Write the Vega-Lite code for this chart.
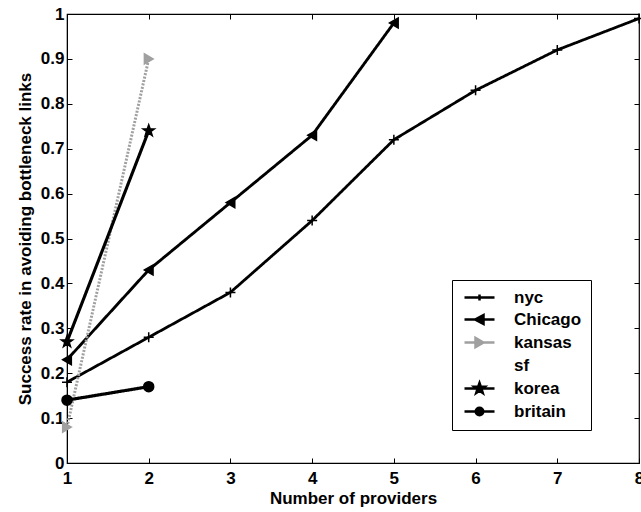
{
  "$schema": "https://vega.github.io/schema/vega-lite/v6.json",
  "width": 572,
  "height": 449,
  "autosize": {"type": "none"},
  "padding": {"left": 67, "top": 14, "right": 2, "bottom": 49},
  "background": "white",
  "config": {
    "view": {"stroke": "black", "strokeWidth": 1.2},
    "font": "Liberation Sans",
    "axis": {"grid": false, "domainColor": "black", "tickColor": "black", "labelColor": "black", "titleColor": "black", "labelFont": "Liberation Sans", "titleFont": "Liberation Sans", "labelFontSize": 17, "titleFontSize": 17, "titleFontWeight": "bold", "labelFontWeight": "bold"},
    "legend": {"labelFont": "Liberation Sans", "labelFontSize": 17, "labelFontWeight": "bold", "labelColor": "black"}
  },
  "data": {
    "values": [
      {"city": "nyc", "n": 1, "rate": 0.18},
      {"city": "nyc", "n": 2, "rate": 0.28},
      {"city": "nyc", "n": 3, "rate": 0.38},
      {"city": "nyc", "n": 4, "rate": 0.54},
      {"city": "nyc", "n": 5, "rate": 0.72},
      {"city": "nyc", "n": 6, "rate": 0.83},
      {"city": "nyc", "n": 7, "rate": 0.92},
      {"city": "nyc", "n": 8, "rate": 0.99},
      {"city": "Chicago", "n": 1, "rate": 0.23},
      {"city": "Chicago", "n": 2, "rate": 0.43},
      {"city": "Chicago", "n": 3, "rate": 0.58},
      {"city": "Chicago", "n": 4, "rate": 0.73},
      {"city": "Chicago", "n": 5, "rate": 0.98},
      {"city": "kansas", "n": 1, "rate": 0.08},
      {"city": "kansas", "n": 2, "rate": 0.9},
      {"city": "korea", "n": 1, "rate": 0.27},
      {"city": "korea", "n": 2, "rate": 0.74},
      {"city": "britain", "n": 1, "rate": 0.14},
      {"city": "britain", "n": 2, "rate": 0.17}
    ]
  },
  "resolve": {
    "scale": {"shape": "independent", "fill": "independent", "stroke": "independent", "strokeWidth": "independent", "strokeDash": "independent"},
    "axis": {"x": "independent", "y": "independent"}
  },
  "layer": [
    {
      "mark": {"type": "line"},
      "encoding": {
        "x": {"field": "n", "type": "quantitative", "scale": {"domain": [1, 8], "nice": false, "zero": false},
              "axis": {"orient": "top", "title": null, "labels": false, "domain": false, "values": [1, 2, 3, 4, 5, 6, 7, 8], "tickSize": -5}},
        "y": {"field": "rate", "type": "quantitative", "scale": {"domain": [0, 1], "nice": false},
              "axis": {"orient": "right", "title": null, "labels": false, "domain": false, "values": [0, 0.1, 0.2, 0.3, 0.4, 0.5, 0.6, 0.7, 0.8, 0.9, 1], "tickSize": -5}},
        "detail": {"field": "city"},
        "stroke": {"field": "city", "type": "nominal", "legend": null,
                   "scale": {"domain": ["nyc", "Chicago", "kansas", "sf", "korea", "britain"], "range": ["#000000", "#000000", "#a0a0a0", "#000000", "#000000", "#000000"]}},
        "strokeWidth": {"field": "city", "type": "nominal", "legend": null,
                   "scale": {"domain": ["nyc", "Chicago", "kansas", "sf", "korea", "britain"], "range": [2.8, 3.2, 2, 3, 3.2, 3.2]}},
        "strokeDash": {"field": "city", "type": "nominal", "legend": null,
                   "scale": {"domain": ["nyc", "Chicago", "kansas", "sf", "korea", "britain"], "range": [[1, 0], [1, 0], [2, 1.5], [1, 0], [1, 0], [1, 0]]}}
      }
    },
    {
      "mark": {"type": "point", "filled": true, "opacity": 1, "size": 100, "strokeWidth": 1.5},
      "encoding": {
        "x": {"field": "n", "type": "quantitative",
              "axis": {"orient": "bottom", "title": "Number of providers", "values": [1, 2, 3, 4, 5, 6, 7, 8], "tickSize": -5, "labelPadding": 12, "titlePadding": 4, "labelFlush": false}},
        "y": {"field": "rate", "type": "quantitative",
              "axis": {"orient": "left", "title": "Success rate in avoiding bottleneck links", "values": [0, 0.1, 0.2, 0.3, 0.4, 0.5, 0.6, 0.7, 0.8, 0.9, 1], "format": "~g", "tickSize": -5, "labelPadding": 8, "titlePadding": 6, "labelFlush": false}},
        "shape": {"field": "city", "type": "nominal", "legend": null,
                  "scale": {"domain": ["nyc", "Chicago", "kansas", "sf", "korea", "britain"],
                            "range": ["M-1,0H1M0,-1V1", "triangle-left", "triangle-right", "circle", "M0,-1.2L0.282,-0.389L1.141,-0.371L0.456,0.149L0.706,0.971L0,0.48L-0.706,0.971L-0.456,0.149L-1.141,-0.371L-0.282,-0.389Z", "circle"]}},
        "fill": {"field": "city", "type": "nominal", "legend": null,
                 "scale": {"domain": ["nyc", "Chicago", "kansas", "sf", "korea", "britain"], "range": ["#000000", "#000000", "#a0a0a0", "#000000", "#000000", "#000000"]}},
        "stroke": {"field": "city", "type": "nominal", "legend": null,
                 "scale": {"domain": ["nyc", "Chicago", "kansas", "sf", "korea", "britain"], "range": ["#000000", "#000000", "#a0a0a0", "#000000", "#000000", "#000000"]}}
      }
    },
    {
      "mark": {"type": "point", "filled": true, "opacity": 0, "size": 144, "strokeWidth": 2.5},
      "encoding": {
        "x": {"field": "n", "type": "quantitative", "axis": null},
        "y": {"field": "rate", "type": "quantitative", "axis": null},
        "shape": {"field": "city", "type": "nominal",
                  "scale": {"domain": ["nyc", "Chicago", "kansas", "sf", "korea", "britain"],
                            "range": ["M-1,0H5M2,-0.6V0.6", "M-1,0H5M1.1,0L2.8,-0.9L2.8,0.9Z", "M-1,0H5M2.8,0L1.2,-0.9L1.2,0.9Z", "M0,0L0,0", "M-1,0H5M2,-1.1L2.259,-0.356L3.046,-0.34L2.418,0.136L2.647,0.89L2,0.44L1.353,0.89L1.582,0.136L0.954,-0.34L1.741,-0.356Z", "M-1,0H5M2.75,0A0.75,0.75 0 1 1 1.25,0A0.75,0.75 0 1 1 2.75,0Z"]},
                  "legend": {"title": null, "orient": "none", "legendX": 385, "legendY": 266, "strokeColor": "black", "fillColor": "white", "padding": 9, "labelOffset": 36, "rowPadding": 4, "symbolOpacity": 1, "symbolStrokeWidth": 2.5}},
        "fill": {"field": "city", "type": "nominal",
                 "scale": {"domain": ["nyc", "Chicago", "kansas", "sf", "korea", "britain"], "range": ["#000000", "#000000", "#a0a0a0", "transparent", "#000000", "#000000"]},
                 "legend": {"title": null, "orient": "none", "legendX": 385, "legendY": 266, "strokeColor": "black", "fillColor": "white", "padding": 9, "labelOffset": 36, "rowPadding": 4, "symbolOpacity": 1, "symbolStrokeWidth": 2.5}},
        "stroke": {"field": "city", "type": "nominal",
                 "scale": {"domain": ["nyc", "Chicago", "kansas", "sf", "korea", "britain"], "range": ["#000000", "#000000", "#a0a0a0", "transparent", "#000000", "#000000"]},
                 "legend": {"title": null, "orient": "none", "legendX": 385, "legendY": 266, "strokeColor": "black", "fillColor": "white", "padding": 9, "labelOffset": 36, "rowPadding": 4, "symbolOpacity": 1, "symbolStrokeWidth": 2.5}}
      }
    }
  ]
}
